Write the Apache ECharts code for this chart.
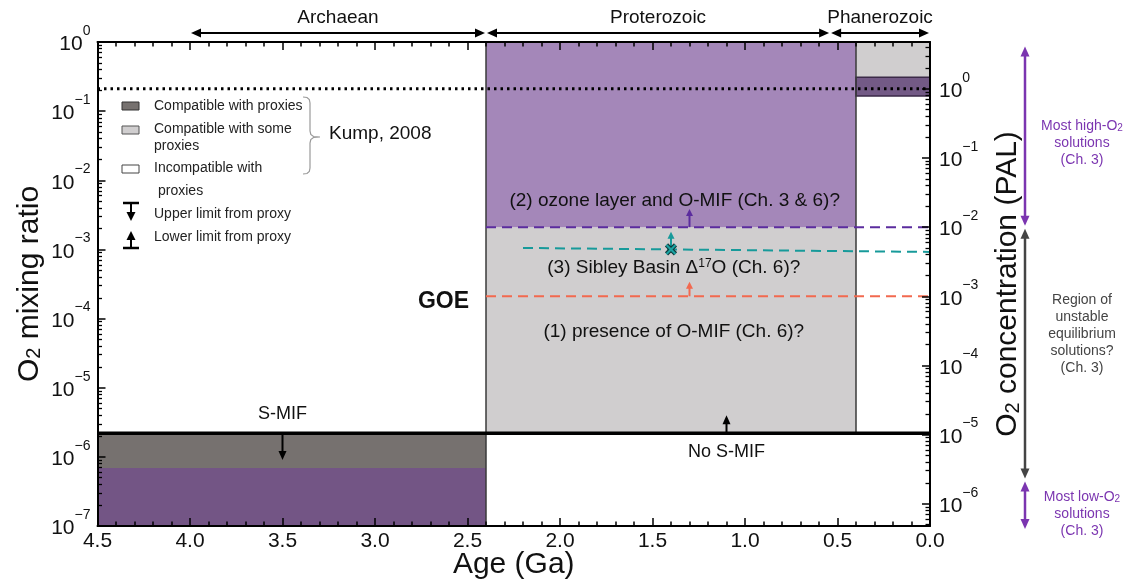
<!DOCTYPE html>
<html>
<head>
<meta charset="utf-8">
<script src="https://cdn.jsdelivr.net/npm/echarts@6/dist/echarts.min.js"></script>
<style>
  html, body { margin: 0; padding: 0; background: #fff; }
  #chart { width: 1127px; height: 580px; }
</style>
</head>
<body>
<div id="chart"></div>
<script>
const FONT = '"Liberation Sans", Arial, Helvetica, sans-serif';
const PAL = 0.21; // present atmospheric level, as an O2 mixing ratio

// ---- axes ----
const ageMin = 0, ageMax = 4.5;
const o2Min = 1e-7, o2Max = 1;
const o2MajorTicks = [1e-7, 1e-6, 1e-5, 1e-4, 1e-3, 1e-2, 1e-1, 1];
const palMajorTicks = [1e-6, 1e-5, 1e-4, 1e-3, 1e-2, 1e-1, 1];

// ---- eons along the top ----
const eonNames = ['Archaean', 'Proterozoic', 'Phanerozoic'];
const eonStart = [4.0, 2.4, 0.54];
const eonEnd = [2.4, 0.54, 0.0];

// ---- Kump (2008) constraint boxes ----
const boxKind = ['compatible', 'lowO2', 'some', 'highO2', 'some', 'band'];
const boxAgeStart = [4.5, 4.5, 2.4, 2.4, 0.4, 0.4];
const boxAgeEnd = [2.4, 2.4, 0.4, 0.4, 0.0, 0.0];
const boxO2Low = [6.9e-7, 1e-7, 2.2e-6, 2.1e-3, 0.31, 0.166];
const boxO2High = [2.2e-6, 6.9e-7, 2.1e-3, 1, 1, 0.31];

// vertical box edges
const edgeAge = [2.4, 0.4];
const edgeO2Low = [1e-7, 2.2e-6];
const edgeO2High = [1, 1];

// ---- horizontal thresholds ----
const sMifAges = [4.5, 0.0];
const sMifO2 = [2.2e-6, 2.2e-6];
const palAges = [4.5, 0.0];
const palO2 = [PAL, PAL];
const ozoneAges = [2.4, 0.0];
const ozoneO2 = [2.1e-3, 2.1e-3];
const sibleyAges = [2.2, 1.4, 0.0];
const sibleyO2 = [1.05e-3, 1.0e-3, 9.2e-4];
const omifAges = [2.4, 0.0];
const omifO2 = [2.1e-4, 2.1e-4];
const sibleyPoint = [1.4, 1.0e-3];

// ---- proxy limit arrows ----
const arrowKind = ['black', 'black', 'ozone', 'sibley', 'omif'];
const arrowAge = [3.5, 1.1, 1.3, 1.4, 1.3];
const arrowFrom = [2.2e-6, 2.2e-6, 2.1e-3, 1.0e-3, 2.1e-4];
const arrowTo = [9e-7, 4.0e-6, 3.85e-3, 1.8e-3, 3.4e-4];

// ---- labels inside the plot ----
const noteText = ['S-MIF', 'No S-MIF', 'GOE',
  '(2) ozone layer and O-MIF (Ch. 3 & 6)?',
  '(3) Sibley Basin Δ{sup|17}O (Ch. 6)?',
  '(1) presence of O-MIF (Ch. 6)?'];
const noteAge = [3.5, 1.1, 2.63, 1.38, 1.385, 1.385];
const noteO2 = [4.2e-6, 1.17e-6, 1.74e-4, 5.07e-3, 5.5e-4, 6.5e-5];

// ---- model solution ranges on the PAL scale ----
const rangeTopPAL = [4.3, 1e-2, 2.2e-6];
const rangeBottomPAL = [1e-2, 2.2e-6, 4.1e-7];
const rangeLabelPAL = [0.165, 2.85e-4, 7.1e-7];
const rangeLines = [
  ['Most high-O{sub|2}', 'solutions', '(Ch. 3)'],
  ['Region of', 'unstable', 'equilibrium', 'solutions?', '(Ch. 3)'],
  ['Most low-O{sub|2}', 'solutions', '(Ch. 3)']
];
const rangeKind = ['purple', 'gray', 'purple'];

// ---- styles ----
const boxStyle = {
  compatible: { fill: '#76716f' },
  lowO2: { fill: '#735585' },
  some: { fill: '#d0cecf' },
  highO2: { fill: '#a487b9' },
  band: { fill: '#735a86', stroke: '#3b2a48', lineWidth: 1.5 }
};
const arrowColor = { black: '#000', ozone: '#5b2c9e', sibley: '#179a9a', omif: '#f2694f' };
const rangeColor = { purple: '#7b35b0', gray: '#444' };

function minorTicks(base) {
  const out = [];
  for (let e = -8; e <= 1; e++) {
    for (let m = 2; m <= 9; m++) {
      const v = base * m * Math.pow(10, e);
      if (v > o2Min * 1.0001 && v < o2Max * 0.9999) out.push(v);
    }
  }
  return out;
}
const leftMinor = minorTicks(1);
const rightMinor = minorTicks(PAL);
const palMajorInRange = palMajorTicks.map(v => v * PAL);

function expLabel(e) {
  return '{b|10}{s|' + (e < 0 ? '\u2212' + (-e) : String(e)) + '}';
}
// "10" sits at the bottom of a tall line, the exponent at its top
const tickRich = {
  b: { fontFamily: FONT, fontSize: 21, color: '#111', lineHeight: 20, verticalAlign: 'bottom' },
  s: { fontFamily: FONT, fontSize: 14, color: '#111', lineHeight: 31, verticalAlign: 'top' }
};

const axisLineStyle = { show: true, onZero: false, lineStyle: { color: '#000', width: 2 } };
const nameRich = { sub: { fontFamily: FONT, fontSize: 20, color: '#111', verticalAlign: 'bottom', lineHeight: 20 } };

const chart = echarts.init(document.getElementById('chart'), null, { renderer: 'canvas' });

const option = {
  animation: false,
  backgroundColor: '#fff',
  grid: { left: 97.5, right: 197, top: 42, bottom: 54, containLabel: false, outerBoundsMode: 'none' },
  xAxis: [
    {
      type: 'value', min: ageMin, max: ageMax, interval: 0.5, inverse: true, position: 'bottom', z: 10,
      name: 'Age (Ga)', nameLocation: 'middle', nameGap: 24, nameMoveOverlap: false,
      nameTextStyle: { fontFamily: FONT, fontSize: 30, color: '#111', verticalAlign: 'top' },
      axisLine: axisLineStyle,
      axisTick: { show: true, inside: true, length: 8, lineStyle: { color: '#000', width: 1.5 } },
      minorTick: { show: true, splitNumber: 5, length: 4.5, lineStyle: { color: '#000', width: 1.5 } },
      axisLabel: { fontFamily: FONT, fontSize: 21, color: '#111', margin: 5, formatter: v => v.toFixed(1) },
      splitLine: { show: false }, minorSplitLine: { show: false }
    },
    {
      type: 'value', min: ageMin, max: ageMax, interval: 0.5, inverse: true, position: 'top', z: 10,
      axisLine: axisLineStyle,
      axisTick: { show: true, inside: true, length: 8, lineStyle: { color: '#000', width: 1.5 } },
      minorTick: { show: true, splitNumber: 5, length: 4.5, lineStyle: { color: '#000', width: 1.5 } },
      axisLabel: { show: false },
      splitLine: { show: false }, minorSplitLine: { show: false }
    }
  ],
  yAxis: [
    {
      type: 'log', logBase: 10, min: o2Min, max: o2Max, position: 'left', z: 10,
      name: 'O{sub|2} mixing ratio', nameLocation: 'middle', nameGap: 53, nameRotate: 90, nameMoveOverlap: false,
      nameTextStyle: { fontFamily: FONT, fontSize: 30, color: '#111', rich: nameRich },
      axisLine: axisLineStyle,
      axisTick: { show: true, inside: true, length: 8, customValues: o2MajorTicks, lineStyle: { color: '#000', width: 1.5 } },
      axisLabel: {
        customValues: o2MajorTicks, margin: 7, padding: [0, 0, 5, 0],
        formatter: v => expLabel(Math.round(Math.log10(v))), rich: tickRich
      },
      splitLine: { show: false }
    },
    {
      type: 'log', logBase: 10, min: o2Min, max: o2Max, position: 'right', z: 10,
      name: 'O{sub|2} concentration (PAL)', nameLocation: 'middle', nameGap: 63, nameRotate: 90, nameMoveOverlap: false,
      nameTextStyle: { fontFamily: FONT, fontSize: 30, color: '#111', rich: nameRich },
      axisLine: axisLineStyle,
      axisTick: { show: true, inside: true, length: 8, customValues: palMajorInRange, lineStyle: { color: '#000', width: 1.5 } },
      axisLabel: {
        customValues: palMajorInRange, margin: 9, padding: [0, 0, 5, 0],
        formatter: v => expLabel(Math.round(Math.log10(v / PAL))), rich: tickRich
      },
      splitLine: { show: false }
    },
    {
      type: 'log', logBase: 10, min: o2Min, max: o2Max, position: 'left', z: 10,
      axisLine: { show: false, onZero: false },
      axisTick: { show: true, inside: true, length: 4.5, customValues: leftMinor, lineStyle: { color: '#000', width: 1.3 } },
      axisLabel: { show: false }, splitLine: { show: false }
    },
    {
      type: 'log', logBase: 10, min: o2Min, max: o2Max, position: 'right', z: 10,
      axisLine: { show: false, onZero: false },
      axisTick: { show: true, inside: true, length: 4.5, customValues: rightMinor, lineStyle: { color: '#000', width: 1.3 } },
      axisLabel: { show: false }, splitLine: { show: false }
    }
  ],
  series: [
    {
      name: 'Kump 2008 boxes', type: 'custom', z: 1, silent: true,
      data: boxKind.map((k, i) => [boxAgeStart[i], boxAgeEnd[i], boxO2Low[i], boxO2High[i]]),
      encode: { x: [0, 1], y: [2, 3] },
      renderItem: (params, api) => {
        const p0 = api.coord([api.value(0), api.value(3)]);
        const p1 = api.coord([api.value(1), api.value(2)]);
        return {
          type: 'rect',
          shape: { x: p0[0], y: p0[1], width: p1[0] - p0[0], height: p1[1] - p0[1] },
          style: boxStyle[boxKind[params.dataIndex]]
        };
      }
    },
    {
      name: 'Box edges', type: 'custom', z: 2, silent: true,
      data: edgeAge.map((a, i) => [a, edgeO2Low[i], edgeO2High[i]]),
      encode: { x: 0, y: [1, 2] },
      renderItem: (params, api) => {
        const a = api.coord([api.value(0), api.value(1)]);
        const b = api.coord([api.value(0), api.value(2)]);
        return { type: 'line', shape: { x1: a[0], y1: a[1], x2: b[0], y2: b[1] }, style: { stroke: '#3a3a3a', lineWidth: 1.5 } };
      }
    },
    {
      name: 'PAL', type: 'line', z: 4, silent: true, symbol: 'none',
      data: palAges.map((a, i) => [a, palO2[i]]),
      lineStyle: { color: '#000', width: 3, type: [2.5, 4] }
    },
    {
      name: 'S-MIF limit', type: 'line', z: 5, silent: true, symbol: 'none',
      data: sMifAges.map((a, i) => [a, sMifO2[i]]),
      lineStyle: { color: '#000', width: 3.5 }
    },
    {
      name: 'Ozone layer', type: 'line', z: 4, silent: true, symbol: 'none',
      data: ozoneAges.map((a, i) => [a, ozoneO2[i]]),
      lineStyle: { color: arrowColor.ozone, width: 2, type: [10, 6] }
    },
    {
      name: 'Sibley Basin', type: 'line', z: 4, silent: true, symbol: 'none',
      data: sibleyAges.map((a, i) => [a, sibleyO2[i]]),
      lineStyle: { color: arrowColor.sibley, width: 2, type: [10, 6] }
    },
    {
      name: 'O-MIF', type: 'line', z: 4, silent: true, symbol: 'none',
      data: omifAges.map((a, i) => [a, omifO2[i]]),
      lineStyle: { color: arrowColor.omif, width: 2, type: [10, 6] }
    },
    {
      name: 'Limits', type: 'custom', z: 6, silent: true,
      data: arrowAge.map((a, i) => [a, arrowFrom[i], arrowTo[i]]),
      encode: { x: 0, y: [1, 2] },
      renderItem: (params, api) => {
        const a = api.coord([api.value(0), api.value(1)]);
        const b = api.coord([api.value(0), api.value(2)]);
        const kind = arrowKind[params.dataIndex];
        const color = arrowColor[kind];
        const dir = b[1] < a[1] ? -1 : 1;
        const head = kind === 'black' ? 9 : 7;
        const hw = kind === 'black' ? 4 : 3.5;
        return {
          type: 'group',
          children: [
            { type: 'line', shape: { x1: a[0], y1: a[1], x2: b[0], y2: b[1] - dir * head * 0.7 }, style: { stroke: color, lineWidth: 2 } },
            { type: 'polygon', shape: { points: [[b[0], b[1]], [b[0] - hw, b[1] - dir * head], [b[0] + hw, b[1] - dir * head]] }, style: { fill: color } }
          ]
        };
      }
    },
    {
      name: 'Sibley point', type: 'custom', z: 7, silent: true,
      data: [sibleyPoint],
      encode: { x: 0, y: 1 },
      renderItem: (params, api) => {
        const p = api.coord([api.value(0), api.value(1)]);
        const r = 4.5;
        const seg = (w, c) => [
          { type: 'line', shape: { x1: p[0] - r, y1: p[1] - r, x2: p[0] + r, y2: p[1] + r }, style: { stroke: c, lineWidth: w } },
          { type: 'line', shape: { x1: p[0] - r, y1: p[1] + r, x2: p[0] + r, y2: p[1] - r }, style: { stroke: c, lineWidth: w } }
        ];
        return { type: 'group', children: seg(4.5, '#0e3b3b').concat(seg(2.2, '#1aa3a3')) };
      }
    },
    {
      name: 'Notes', type: 'custom', z: 8, silent: true,
      data: noteAge.map((a, i) => [a, noteO2[i]]),
      encode: { x: 0, y: 1 },
      renderItem: (params, api) => {
        const p = api.coord([api.value(0), api.value(1)]);
        const i = params.dataIndex;
        const isGoe = noteText[i] === 'GOE';
        const size = isGoe ? 23 : (i < 2 ? 18 : 19);
        return {
          type: 'text', x: p[0], y: p[1],
          style: {
            text: noteText[i],
            font: (isGoe ? 'bold ' : '') + size + 'px ' + FONT,
            fill: '#111', align: 'center', verticalAlign: 'middle',
            rich: { sup: { fontFamily: FONT, fontSize: 12, fill: '#111', verticalAlign: 'top', lineHeight: 12, padding: [0, 0, 8, 0] } }
          }
        };
      }
    }
  ]
};

chart.setOption(option);

// ---- decorations outside the plotting area, placed through the axes ----
const gx = v => chart.convertToPixel({ xAxisIndex: 0 }, v);
const gy = v => chart.convertToPixel({ yAxisIndex: 0 }, v);
const graphics = [];

function head(x, y, dx, dy, len, hw, color) {
  // arrow head whose tip is at (x, y) pointing along (dx, dy)
  const bx = x - dx * len, by = y - dy * len;
  return {
    type: 'polygon', silent: true,
    shape: { points: [[x, y], [bx - dy * hw, by + dx * hw], [bx + dy * hw, by - dx * hw]] },
    style: { fill: color }
  };
}

// eon arrows
const eonY = 33;
eonNames.forEach((name, i) => {
  const x1 = gx(eonStart[i]) + 1, x2 = gx(eonEnd[i]) - 1;
  graphics.push({ type: 'line', silent: true, shape: { x1: x1 + 6, y1: eonY, x2: x2 - 6, y2: eonY }, style: { stroke: '#000', lineWidth: 2 } });
  graphics.push(head(x1, eonY, -1, 0, 10, 4.5, '#000'));
  graphics.push(head(x2, eonY, 1, 0, 10, 4.5, '#000'));
  graphics.push({
    type: 'text', silent: true, x: (x1 + x2) / 2, y: 18,
    style: { text: name, font: '19px ' + FONT, fill: '#111', align: 'center', verticalAlign: 'middle' }
  });
});

// solution ranges beside the PAL axis
const plotRight = gx(0);
const rangeX = plotRight + 95;
const rangeTextX = plotRight + 152;
rangeKind.forEach((kind, i) => {
  const color = rangeColor[kind];
  const yTop = gy(rangeTopPAL[i] * PAL) + 1.5;
  const yBot = gy(rangeBottomPAL[i] * PAL) - 1.5;
  graphics.push({ type: 'line', silent: true, shape: { x1: rangeX, y1: yTop + 6, x2: rangeX, y2: yBot - 6 }, style: { stroke: color, lineWidth: 2.5 } });
  graphics.push(head(rangeX, yTop, 0, -1, 10, 4.5, color));
  graphics.push(head(rangeX, yBot, 0, 1, 10, 4.5, color));
  const lines = rangeLines[i];
  const lh = 17;
  const yc = gy(rangeLabelPAL[i] * PAL);
  lines.forEach((t, j) => {
    graphics.push({
      type: 'text', silent: true, x: rangeTextX, y: yc + (j - (lines.length - 1) / 2) * lh,
      style: {
        text: t, font: '14px ' + FONT, fill: color, align: 'center', verticalAlign: 'middle',
        rich: { sub: { fontFamily: FONT, fontSize: 10, fill: color, verticalAlign: 'bottom', lineHeight: 10 } }
      }
    });
  });
});

// legend for the Kump (2008) boxes and proxy limits
const legendFont = '14px ' + FONT;
const legendItems = [
  { box: '#76716f', stroke: '#333', y: 102, lines: [['Compatible with proxies', 154, 106]] },
  { box: '#d0cecf', stroke: '#555', y: 126, lines: [['Compatible with some', 154, 129], ['proxies', 154, 146]] },
  { box: '#ffffff', stroke: '#444', y: 165, lines: [['Incompatible with', 154, 168], ['proxies', 158, 191]] }
];
legendItems.forEach(it => {
  graphics.push({ type: 'rect', silent: true, shape: { x: 122, y: it.y, width: 17, height: 8 }, style: { fill: it.box, stroke: it.stroke, lineWidth: 1 } });
  it.lines.forEach(l => graphics.push({
    type: 'text', silent: true, x: l[1], y: l[2],
    style: { text: l[0], font: legendFont, fill: '#222', align: 'left', verticalAlign: 'middle' }
  }));
});
// upper limit symbol
graphics.push({ type: 'line', silent: true, shape: { x1: 123, y1: 203, x2: 139, y2: 203 }, style: { stroke: '#000', lineWidth: 2.5 } });
graphics.push({ type: 'line', silent: true, shape: { x1: 131, y1: 203, x2: 131, y2: 214 }, style: { stroke: '#000', lineWidth: 2 } });
graphics.push(head(131, 221, 0, 1, 9, 4.5, '#000'));
graphics.push({ type: 'text', silent: true, x: 154, y: 214, style: { text: 'Upper limit from proxy', font: legendFont, fill: '#222', verticalAlign: 'middle' } });
// lower limit symbol
graphics.push(head(131, 231, 0, -1, 9, 4.5, '#000'));
graphics.push({ type: 'line', silent: true, shape: { x1: 131, y1: 238, x2: 131, y2: 248 }, style: { stroke: '#000', lineWidth: 2 } });
graphics.push({ type: 'line', silent: true, shape: { x1: 123, y1: 248, x2: 139, y2: 248 }, style: { stroke: '#000', lineWidth: 2.5 } });
graphics.push({ type: 'text', silent: true, x: 154, y: 237, style: { text: 'Lower limit from proxy', font: legendFont, fill: '#222', verticalAlign: 'middle' } });
// brace and citation
graphics.push({
  type: 'polyline', silent: true,
  shape: {
    points: [[303, 97], [307, 97.5], [309.3, 99.5], [310, 103], [310, 131], [310.8, 134.5], [313.5, 136.5], [320, 137],
             [313.5, 137.5], [310.8, 139.5], [310, 143], [310, 168], [309.3, 171.5], [307, 173.5], [303, 174]]
  },
  style: { stroke: '#9a9a9a', lineWidth: 1.2, fill: null }
});
graphics.push({ type: 'text', silent: true, x: 329, y: 134, style: { text: 'Kump, 2008', font: '19px ' + FONT, fill: '#111', verticalAlign: 'middle' } });

chart.setOption({ graphic: graphics });
</script>
</body>
</html>
